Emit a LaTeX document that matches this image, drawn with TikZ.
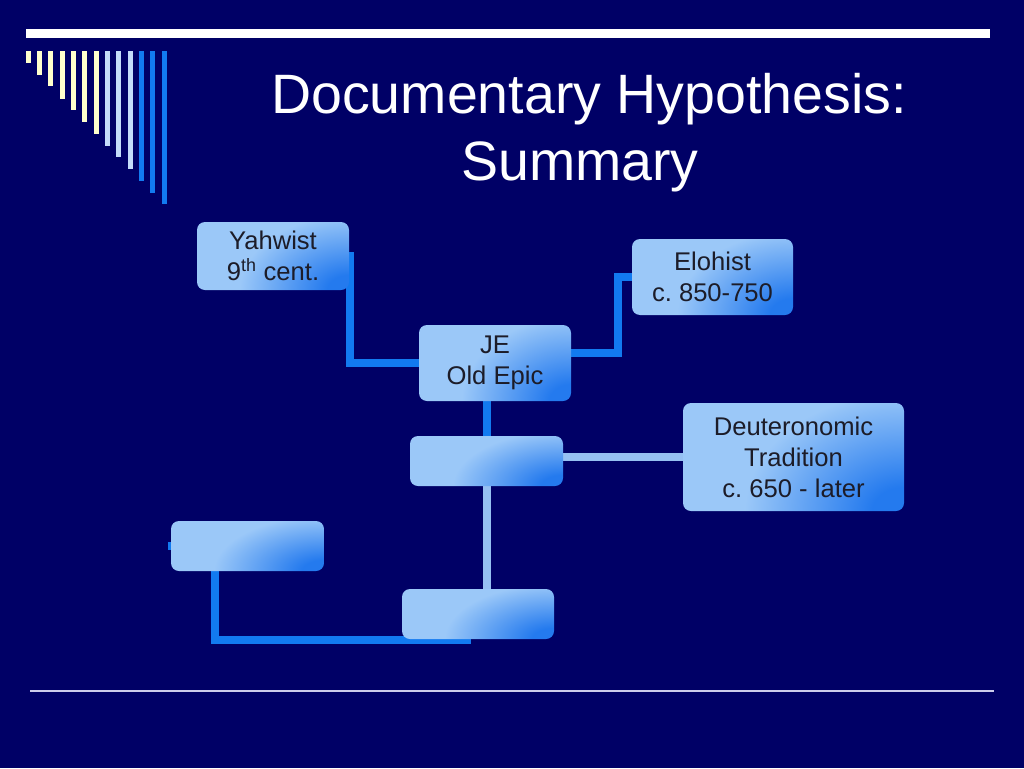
\documentclass[tikz,border=0pt]{standalone}
\usepackage{fontspec}
\setmainfont{Liberation Sans}
\usetikzlibrary{calc}
\frenchspacing
\definecolor{bg}{RGB}{0,0,102}
\definecolor{cream}{RGB}{255,255,204}
\definecolor{paleblue}{RGB}{196,220,250}
\definecolor{brightblue}{RGB}{18,122,240}
\definecolor{lightconn}{RGB}{150,192,242}
\definecolor{boxtext}{RGB}{28,28,40}
\definecolor{rule}{RGB}{205,205,235}
\pgfdeclarelayer{bglayer}
\pgfdeclarelayer{connlayer}
\pgfsetlayers{bglayer,connlayer,main}
% light (155,200,248) towards dark (36,122,238) at the lower right corner
\pgfdeclarefunctionalshading{boxshade}{\pgfpoint{-50bp}{-50bp}}{\pgfpoint{50bp}{50bp}}{}{
  25 add 50 div
  exch neg 25 add 50 div
  0.72 div dup mul
  exch 1.1 div dup mul
  add sqrt neg 1 add 1.25 mul
  dup 0 lt {pop 0} if
  dup 1 gt {pop 1} if
  dup dup
  -0.040 mul 0.973 add
  3 1 roll
  -0.306 mul 0.784 add
  exch
  -0.467 mul 0.608 add
  3 1 roll
  exch
}
\tikzset{
  boxnode/.style={rounded corners=8pt, shading=boxshade, inner sep=0pt,
    text=boxtext, font=\fontsize{25.6}{31}\selectfont, align=center},
  connbright/.style={draw=brightblue, line width=8pt},
  connlight/.style={draw=lightconn, line width=8pt},
  titletext/.style={text=white, font=\fontsize{55.5}{66}\selectfont, anchor=base, inner sep=0pt},
}
\newcommand{\boxat}[6]{% name, x1, y1, x2, y2, text
  \node[boxnode, minimum width={(#4-#2)*1pt}, minimum height={(#5-#3)*1pt}] (#1) at ({(#2+#4)/2},{(#3+#5)/2}) {#6};}
\begin{document}
\begin{tikzpicture}[x=1pt,y=-1pt]
\begin{pgfonlayer}{bglayer}
\fill[bg] (0,0) rectangle (1024,768);
\end{pgfonlayer}
\useasboundingbox (0,0) rectangle (1024,768);
% top white bar
\fill[white] (26,29) rectangle (990,38);
% decorative bars
\foreach \i/\b/\c in {0/63/cream,1/75/cream,2/86/cream,3/99/cream,4/110/cream,5/122/cream,6/134/cream,7/146/paleblue,8/157/paleblue,9/169/paleblue,10/181/brightblue,11/193/brightblue,12/204/brightblue}{
  \fill[\c] ({25.5+11.35*\i},51) rectangle ({30.5+11.35*\i},\b);
}
% bottom rule
\draw[rule, line width=1.5pt] (30,691) -- (994,691);
% title
\node[titletext] (title1) at (589,113) {Documentary Hypothesis:};
\node[titletext] (title2) at (580,180) {Summary};
% boxes
\boxat{Y}{197}{222}{349}{290}{Yahwist\\9\textsuperscript{th} cent.}
\boxat{JE}{419}{325}{571}{401}{JE\\Old Epic}
\boxat{E}{632}{239}{793}{315}{Elohist\\c. 850-750}
\boxat{B3}{410}{436}{563}{486}{}
\boxat{D}{683}{403}{904}{511}{Deuteronomic\\Tradition\\c. 650 - later}
\boxat{L}{171}{521}{324}{571}{}
\boxat{Bot}{402}{589}{554}{639}{}
\coordinate (Lstub) at ($(L.west)+(-3,0)$);
\coordinate (Lend) at (471,640);
\coordinate (Lcorner) at (215,640);
\coordinate (Ecorner) at (618,277);
\begin{pgfonlayer}{connlayer}
\draw[connbright] (Y.east) -- ++(1,0) |- (JE.west);
\draw[connbright] ($(JE.east)+(0,-10)$) -| (Ecorner) -- (E.west);
\draw[connbright] (B3.north |- JE.south) -- (B3.north);
\draw[connlight] (D.west -| B3.east) -- (D.west);
\draw[connlight] (B3.south) -- (B3.south |- Bot.north);
\draw[connbright] (Lstub) -| (Lcorner) -- (Lend);
\end{pgfonlayer}
\end{tikzpicture}
\end{document}
